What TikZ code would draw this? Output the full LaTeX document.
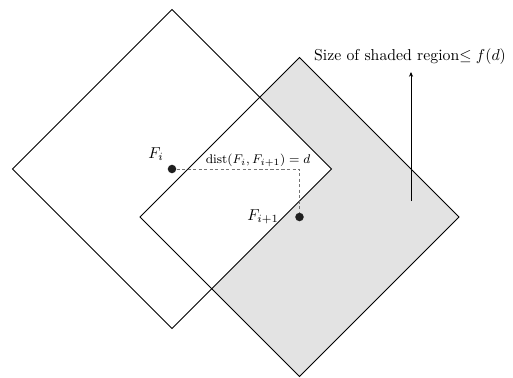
\documentclass[tikz,border=0pt]{standalone}
\usetikzlibrary{arrows.meta}
\begin{document}
\begin{tikzpicture}[x=0.634pt,y=-0.634pt,
  sq/.style={draw=black,line width=0.65pt,line join=miter},
  dot/.style={circle,fill=black!88,inner sep=0pt,minimum size=5.4pt},
  dist/.style={draw=black!55,dashed,dash pattern=on 2pt off 1.5pt,line width=0.45pt},
  lab/.style={inner sep=0pt,font=\normalsize}]
\useasboundingbox (0,0) rectangle (513,377);
% shaded region: second square minus first
\fill[black!11] (299.5,57.5) -- (459,217) -- (299.5,376.5) -- (140,217) -- cycle;
\fill[white] (172,9.5) -- (331.5,169) -- (172,328.5) -- (12.5,169) -- cycle;
\draw[sq] (172,9.5) -- (331.5,169) -- (172,328.5) -- (12.5,169) -- cycle;
\draw[sq] (299.5,57.5) -- (459,217) -- (299.5,376.5) -- (140,217) -- cycle;
% centres
\node[dot] (fi) at (172,169) {};
\node[dot] (fj) at (299.5,217) {};
\draw[dist] (fi) -| (fj);
\node[lab] (lfi) at (156,154) {$F_i$};
\node[lab] (lfj) at (263,217) {$F_{i+1}$};
\node[lab,font=\footnotesize] (ld) at (258,160) {$\mathrm{dist}(F_i,F_{i+1})=d$};
% arrow and caption
\coordinate (a0) at (411,201);
\coordinate (a1) at (411,72);
\draw[line width=0.6pt,-{Stealth[length=3pt,width=2.6pt]}] (a0) -- (a1);
\node[lab] (cap) at (410,57) {Size of shaded region$\leq f(d)$};
\end{tikzpicture}
\end{document}
